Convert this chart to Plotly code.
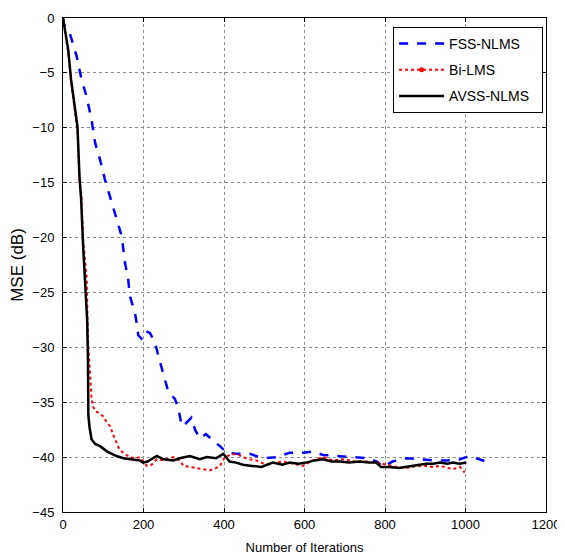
import plotly.graph_objects as go

# FSS-NLMS (blue dashed)
fss_x = [0, 1, 17, 34, 46, 59, 71, 80, 92, 104, 117, 129, 146, 154, 162, 166, 179, 183, 187,
         195, 204, 216, 229, 237, 249, 262, 278, 287, 295, 303, 319, 328, 340, 355, 373, 390,
         406, 431, 464, 497, 530, 563, 597, 621, 646, 687, 729, 754, 780, 795, 819, 853, 886,
         920, 953, 986, 1010, 1035, 1051]
fss_y = [0, -0.5, -1.4, -3.5, -5.6, -7.2, -9.3, -11.4, -12.9, -14.7, -16.3, -17.8, -19.9, -22.3,
         -23.8, -25.3, -26.9, -27.8, -28.9, -29.2, -28.5, -28.7, -29.6, -30.8, -32.3, -34.1,
         -34.7, -35.6, -37.2, -37.0, -36.4, -37.5, -38.3, -37.9, -38.5, -39.0, -39.6, -39.7,
         -39.7, -40.1, -40.0, -39.6, -39.6, -39.5, -39.8, -39.9, -40.0, -40.1, -40.4, -40.9,
         -40.4, -40.1, -40.2, -40.3, -40.3, -40.2, -39.9, -40.2, -40.4]

# Bi-LMS (red dotted)
bi_x = [0, 5, 13, 20, 30, 36, 41, 46, 50, 55, 59, 62, 65, 67, 71, 76, 80, 90, 100, 110, 117, 125,
        133, 140, 150, 165, 180, 191, 200, 208, 220, 233, 250, 274, 290, 299, 315, 332, 350, 365,
        380, 390, 402, 415, 431, 447, 464, 480, 505, 525, 547, 570, 596, 620, 646, 670, 696, 725,
        754, 780, 804, 830, 853, 880, 902, 920, 936, 955, 969, 986, 998]
bi_y = [0, -1.2, -3.2, -5.8, -8.4, -10.3, -14.8, -16.2, -20.2, -22.6, -23.8, -29.3, -31.1, -31.8,
        -34.7, -35.5, -35.8, -36.0, -36.3, -36.9, -37.2, -38.0, -38.7, -39.3, -39.6, -40.0,
        -40.1, -40.0, -40.4, -40.8, -40.7, -40.2, -40.3, -40.0, -40.3, -40.8, -40.9, -41.0,
        -41.1, -41.2, -41.0, -40.8, -40.0, -39.8, -39.7, -40.0, -40.2, -40.3, -40.7, -40.5,
        -40.4, -40.6, -40.8, -40.3, -40.0, -40.3, -40.2, -40.4, -40.4, -40.5, -40.7, -40.9,
        -41.0, -40.8, -40.8, -40.9, -40.8, -41.0, -41.1, -40.9, -41.4]

# AVSS-NLMS (black solid)
avss_x = [0, 5, 13, 20, 30, 36, 41, 45, 50, 55, 57, 60, 62, 63, 66, 71, 80, 92, 110, 120, 133,
          150, 170, 191, 199, 210, 233, 250, 274, 290, 315, 340, 357, 380, 398, 402, 414, 430,
          447, 470, 493, 521, 545, 563, 585, 604, 625, 646, 667, 687, 710, 737, 760, 778, 790,
          810, 836, 850, 869, 890, 902, 920, 936, 955, 969, 985, 1002]
avss_y = [0, -1.1, -2.9, -5.6, -8.1, -9.9, -14.5, -16.5, -20.8, -24.7, -26.2, -27.5, -31.0, -36.2,
          -37.3, -38.4, -38.8, -39.0, -39.5, -39.7, -39.9, -40.1, -40.2, -40.3, -40.5, -40.4,
          -39.9, -40.2, -40.3, -40.1, -39.9, -40.2, -40.0, -40.1, -39.7, -39.9, -40.4, -40.5,
          -40.7, -40.8, -40.9, -40.5, -40.7, -40.5, -40.6, -40.5, -40.3, -40.2, -40.4, -40.4,
          -40.5, -40.4, -40.5, -40.5, -40.9, -40.9, -41.0, -40.9, -40.8, -40.7, -40.6, -40.6,
          -40.5, -40.6, -40.5, -40.6, -40.5]

x_ticks = [0, 200, 400, 600, 800, 1000, 1200]
y_ticks = [0, -5, -10, -15, -20, -25, -30, -35, -40, -45]

FONT = "Liberation Sans, Arial, sans-serif"
PAD = "\u00a0" * 2

fig = go.Figure()
fig.add_trace(go.Scatter(x=fss_x, y=fss_y, mode="lines", name="FSS-NLMS" + PAD,
                         line=dict(color="#0000FF", width=2.5, dash="dash"),
                         legendgroup="a"))
fig.add_trace(go.Scatter(x=bi_x, y=bi_y, mode="lines", name="Bi-LMS", showlegend=False,
                         line=dict(color="#FF0000", width=2, dash="dot"),
                         legendgroup="b"))
fig.add_trace(go.Scatter(x=[None], y=[None], mode="lines+markers", name="Bi-LMS",
                         line=dict(color="#FF0000", width=2, dash="dot"),
                         marker=dict(color="#FF0000", size=5), legendgroup="b"))
fig.add_trace(go.Scatter(x=avss_x, y=avss_y, mode="lines", name="AVSS-NLMS" + PAD,
                         line=dict(color="#000000", width=2.5), legendgroup="c"))

axis_common = dict(showline=True, linecolor="black", linewidth=1, mirror="ticks",
                   ticks="inside", ticklen=4, tickcolor="black", automargin=False,
                   showgrid=True, gridcolor="#8c8c8c", griddash="dot", gridwidth=1,
                   zeroline=False, tickfont=dict(family=FONT, size=13, color="black"))

fig.update_xaxes(range=[0, 1200], tickvals=x_ticks,
                 title=dict(text="Number of Iterations", font=dict(family=FONT, size=13, color="black"),
                            standoff=12),
                 **axis_common)
fig.update_yaxes(range=[-45, 0], tickvals=y_ticks, ticklabelstandoff=5,
                 title=dict(text="MSE (dB)", font=dict(family=FONT, size=17, color="black"),
                            standoff=12),
                 **axis_common)

# the page body adds an 8px offset, so the figure is sized to fit inside the window
fig.update_layout(
    width=557, height=550,
    margin=dict(l=55, r=19, t=10, b=46),
    paper_bgcolor="white", plot_bgcolor="white",
    showlegend=True,
    legend=dict(x=0.994, y=0.982, xanchor="right", yanchor="top",
                bgcolor="white", bordercolor="black", borderwidth=1,
                font=dict(family=FONT, size=14, color="black"),
                itemwidth=45,
                tracegroupgap=5, traceorder="grouped"),
)

fig.write_html("out.html")
